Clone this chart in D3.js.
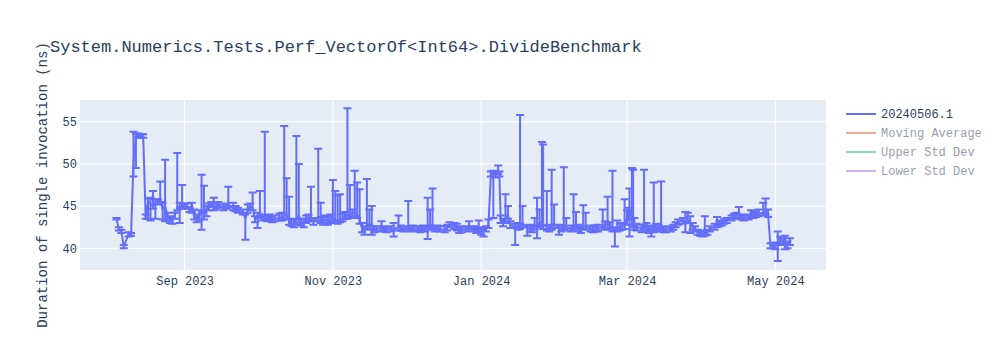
<!DOCTYPE html>
<html>
<head>
<meta charset="utf-8">
<script src="https://cdn.jsdelivr.net/npm/d3@7"></script>
<style>
body{margin:0;background:#fff;}
text{font-family:"Liberation Mono","Courier New",monospace;}
</style>
</head>
<body>
<svg id="chart" width="1000" height="350"></svg>
<script>
// one point per benchmark run (value = mean, upper/lower = ends of the error bar)
var runDates = [
 "2023-08-04","2023-08-05","2023-08-06","2023-08-07","2023-08-09","2023-08-10","2023-08-11","2023-08-12","2023-08-13","2023-08-14","2023-08-15","2023-08-16","2023-08-17","2023-08-18","2023-08-19","2023-08-20","2023-08-21","2023-08-22","2023-08-23","2023-08-24","2023-08-25","2023-08-26","2023-08-27","2023-08-28","2023-08-29","2023-08-30","2023-08-31",
 "2023-09-01","2023-09-02","2023-09-03","2023-09-04","2023-09-05","2023-09-06","2023-09-07","2023-09-08","2023-09-09","2023-09-10","2023-09-11","2023-09-12","2023-09-13","2023-09-14","2023-09-15","2023-09-17","2023-09-18","2023-09-19","2023-09-21","2023-09-22","2023-09-23","2023-09-25","2023-09-26","2023-09-27","2023-09-28","2023-09-29","2023-09-30",
 "2023-10-01","2023-10-02","2023-10-03","2023-10-04","2023-10-05","2023-10-06","2023-10-07","2023-10-08","2023-10-10","2023-10-11","2023-10-12","2023-10-13","2023-10-14","2023-10-15","2023-10-16","2023-10-17","2023-10-18","2023-10-19","2023-10-20","2023-10-21","2023-10-22","2023-10-23","2023-10-24","2023-10-26","2023-10-27","2023-10-28","2023-10-29","2023-10-30","2023-10-31",
 "2023-11-01","2023-11-02","2023-11-03","2023-11-04","2023-11-05","2023-11-06","2023-11-07","2023-11-08","2023-11-09","2023-11-10","2023-11-11","2023-11-12","2023-11-13","2023-11-14","2023-11-15","2023-11-16","2023-11-17","2023-11-18","2023-11-19","2023-11-21","2023-11-22","2023-11-23","2023-11-25","2023-11-26","2023-11-28","2023-11-29","2023-11-30",
 "2023-12-02","2023-12-03","2023-12-04","2023-12-06","2023-12-07","2023-12-08","2023-12-09","2023-12-10","2023-12-11","2023-12-12","2023-12-13","2023-12-14","2023-12-15","2023-12-17","2023-12-18","2023-12-19","2023-12-21","2023-12-22","2023-12-23","2023-12-24","2023-12-26","2023-12-27","2023-12-29","2023-12-30","2023-12-31",
 "2024-01-01","2024-01-02","2024-01-03","2024-01-04","2024-01-05","2024-01-06","2024-01-07","2024-01-08","2024-01-08T12:00Z","2024-01-09","2024-01-10","2024-01-11","2024-01-12","2024-01-13","2024-01-15","2024-01-16","2024-01-17","2024-01-18","2024-01-20","2024-01-21","2024-01-22","2024-01-23","2024-01-24","2024-01-25","2024-01-26","2024-01-26T12:00Z","2024-01-28","2024-01-29","2024-01-30","2024-01-31",
 "2024-02-02","2024-02-03","2024-02-04","2024-02-05","2024-02-07","2024-02-08","2024-02-09","2024-02-10","2024-02-11","2024-02-12","2024-02-13","2024-02-15","2024-02-16","2024-02-17","2024-02-18","2024-02-20","2024-02-21","2024-02-22","2024-02-23","2024-02-24","2024-02-25","2024-02-26","2024-02-27","2024-02-28","2024-02-29",
 "2024-03-01","2024-03-01T12:00Z","2024-03-02","2024-03-03","2024-03-03T12:00Z","2024-03-04","2024-03-05","2024-03-07","2024-03-08","2024-03-09","2024-03-10","2024-03-11","2024-03-12","2024-03-13","2024-03-14","2024-03-15","2024-03-16","2024-03-17","2024-03-19","2024-03-20","2024-03-21","2024-03-22","2024-03-24","2024-03-25","2024-03-26","2024-03-27","2024-03-28","2024-03-29","2024-03-30","2024-03-31",
 "2024-04-01","2024-04-02","2024-04-03","2024-04-04","2024-04-06","2024-04-07","2024-04-08","2024-04-09","2024-04-10","2024-04-11","2024-04-13","2024-04-14","2024-04-15","2024-04-16","2024-04-17","2024-04-18","2024-04-20","2024-04-21","2024-04-22","2024-04-23","2024-04-24","2024-04-26","2024-04-27","2024-04-28","2024-04-29","2024-04-30",
 "2024-05-01","2024-05-02","2024-05-03","2024-05-04","2024-05-05","2024-05-06","2024-05-07"
];

var durations = [
 43.5,42.3,42.0,40.2,41.7,41.6,50.3,53.2,53.4,53.3,53.3,43.7,45.6,45.3,45.0,45.4,45.5,45.8,44.6,45.0,43.8,43.5,43.3,43.9,44.8,44.9,45.0,
 45.0,45.0,44.6,45.1,43.8,43.5,43.9,44.5,44.0,44.6,44.9,45.2,44.8,45.0,45.1,44.8,45.0,45.1,44.9,44.7,44.5,44.3,43.5,44.6,45.0,44.8,43.4,
 43.6,44.0,43.6,43.8,43.5,43.6,43.4,43.5,43.6,43.7,43.8,44.0,43.3,42.9,43.0,43.4,43.9,43.1,43.0,43.4,43.6,43.5,43.2,43.7,43.5,43.2,43.4,43.3,43.5,
 43.6,43.4,43.2,43.5,43.6,43.9,43.9,44.0,44.1,44.3,44.0,43.4,42.4,42.1,42.8,42.7,42.9,42.2,42.3,42.4,42.3,42.2,42.3,42.2,42.5,42.4,42.3,
 42.5,42.3,42.4,42.3,42.2,42.4,42.3,42.4,42.9,42.6,42.3,42.4,42.3,42.2,42.4,42.8,42.7,42.5,42.3,42.2,42.3,42.5,42.3,42.1,42.4,
 42.2,42.1,42.3,42.8,48.8,48.9,48.7,49.1,48.8,43.5,43.0,43.4,44.0,42.8,42.5,42.6,42.7,43.0,42.3,42.4,42.3,42.6,42.8,43.0,43.2,42.8,42.5,42.4,42.7,42.9,
 42.4,42.3,42.6,42.5,42.3,42.6,42.8,42.4,42.2,42.7,42.6,42.3,42.2,42.3,42.4,42.6,42.8,42.9,42.7,42.5,42.0,42.4,42.5,42.6,42.8,
 43.4,44.0,44.5,43.5,43.0,42.6,42.5,42.4,42.6,42.5,42.3,42.2,42.4,42.5,42.4,42.6,42.2,42.2,42.3,42.5,42.8,43.1,43.3,43.1,43.4,43.0,42.6,42.3,41.9,41.8,
 41.7,41.8,41.9,42.3,42.6,42.8,42.9,43.0,43.2,43.3,43.6,43.8,43.9,44.0,43.7,43.6,43.7,43.9,43.9,44.0,44.1,44.2,44.4,44.0,40.3,40.4,
 40.3,40.5,40.9,41.0,40.6,40.4,40.8
];

var upperBound = [
 43.6,42.5,42.2,40.4,41.9,41.8,53.8,53.6,53.6,53.5,53.5,44.0,45.9,46.0,46.8,45.8,45.8,47.9,45.4,50.5,44.2,43.8,43.6,44.2,51.3,45.4,47.5,
 45.3,45.3,44.9,45.4,44.6,44.0,44.5,48.7,47.4,45.0,45.3,45.5,46.0,45.3,45.5,45.2,45.3,47.3,45.4,45.0,44.8,44.6,44.0,45.2,45.3,46.6,43.8,
 44.2,46.8,44.0,53.8,43.9,44.0,43.8,43.9,44.1,44.2,54.5,48.3,46.1,43.4,43.5,53.3,50.0,43.5,43.5,43.9,44.0,47.3,43.6,51.8,45.4,43.7,43.9,43.8,44.0,
 48.1,46.8,46.3,46.4,44.1,44.3,56.6,47.5,44.6,49.2,47.8,47.0,43.0,42.6,48.2,44.6,45.0,42.6,42.6,43.2,42.6,42.5,42.6,43.0,43.9,42.7,42.6,
 45.6,42.6,42.7,42.6,42.5,42.7,42.6,46.0,44.6,47.1,42.6,42.7,42.6,42.6,42.8,43.1,43.0,42.9,42.6,42.5,42.6,43.2,42.6,42.4,43.3,
 42.5,42.4,42.6,43.4,49.1,49.2,49.0,49.8,49.1,43.9,43.5,46.4,45.0,43.2,42.9,43.0,55.8,45.0,42.7,42.8,42.7,43.6,46.0,44.6,52.6,52.3,46.8,42.8,49.3,45.2,
 42.8,42.7,49.6,43.6,42.7,46.4,44.3,42.8,42.6,45.1,44.2,42.7,42.6,42.7,42.8,44.6,43.2,46.1,43.1,49.2,42.5,43.3,42.9,43.0,45.8,
 44.5,44.8,47.1,49.5,49.3,43.6,42.9,42.8,49.3,43.0,42.7,42.6,47.8,42.9,42.8,47.9,42.6,42.5,42.6,42.8,43.1,43.4,43.6,44.3,44.2,43.8,43.0,42.6,42.2,42.1,
 42.0,43.8,42.2,42.6,42.9,43.7,43.2,43.3,43.5,43.6,43.9,44.1,44.2,44.9,44.0,43.9,44.0,44.5,44.2,44.4,44.6,45.4,45.9,44.6,40.6,40.7,
 40.6,42.0,41.4,41.2,41.5,40.8,41.2
];

var lowerBound = [
 43.4,42.1,41.8,40.0,41.4,41.5,48.5,49.5,53.2,53.1,53.1,43.5,43.5,43.3,44.7,43.5,45.2,45.5,43.4,43.2,43.3,43.0,42.9,43.5,44.5,43.0,44.7,
 44.8,44.7,44.3,44.2,43.4,43.1,43.3,42.2,43.4,43.8,44.5,44.9,44.5,44.6,44.8,44.5,44.7,44.8,44.5,44.4,44.2,44.0,41.0,44.2,44.6,44.5,43.1,
 42.4,43.6,43.3,43.4,43.2,43.3,43.1,43.2,43.3,43.3,43.4,43.5,42.8,42.6,42.5,42.8,43.0,42.7,42.5,43.0,43.2,43.2,42.8,43.2,43.0,42.8,43.0,42.8,43.0,
 43.2,43.0,42.9,43.1,43.2,43.5,43.5,43.6,43.7,43.8,43.6,42.9,41.9,41.6,42.3,42.2,41.6,41.9,42.0,42.1,42.0,41.9,42.0,41.4,42.1,42.1,42.0,
 42.2,42.0,42.1,42.0,41.9,42.1,42.0,41.1,42.4,42.2,42.0,42.1,42.0,41.9,42.1,42.5,42.3,42.1,41.8,41.9,42.0,42.2,42.0,41.8,42.0,
 41.6,41.4,42.0,42.4,48.5,43.6,48.4,48.8,48.5,43.0,42.6,43.0,43.5,42.4,40.4,42.2,42.3,42.5,41.5,42.0,41.9,42.2,41.2,42.5,42.7,42.3,42.1,42.0,42.2,42.4,
 41.6,42.0,42.2,42.1,42.0,42.2,42.4,42.0,41.8,42.3,42.2,42.0,41.9,42.0,42.0,42.2,42.4,42.4,42.2,42.0,40.2,42.0,42.1,42.2,42.3,
 42.8,43.4,41.4,42.8,42.5,42.2,42.1,41.9,42.2,42.0,41.8,41.4,41.9,42.1,42.0,42.2,41.9,41.9,42.0,42.2,42.5,42.8,42.9,41.9,43.0,41.8,42.2,42.0,41.6,41.5,
 41.4,41.5,41.6,42.0,42.2,42.5,42.6,42.7,42.9,43.0,43.3,43.5,43.6,43.6,43.4,43.3,43.4,43.6,43.6,43.7,43.8,43.9,44.0,43.7,40.0,40.0,
 39.9,38.5,40.4,40.6,39.9,40.0,40.4
];

var xTickDates = ["2023-09-01","2023-11-01","2024-01-01","2024-03-01","2024-05-01"];
var yTicks = [40, 45, 50, 55];
var legendNames = ["20240506.1", "Moving Average", "Upper Std Dev", "Lower Std Dev"];
var legendColors = ["#636efa", "#EF553B", "#00cc96", "#ab63fa"];

var chartTitle = "System.Numerics.Tests.Perf_VectorOf<Int64>.DivideBenchmark";
var yTitle = "Duration of single invocation (ns)";

if (runDates.length != durations.length || durations.length != upperBound.length || upperBound.length != lowerBound.length) {
    console.log("length mismatch", runDates.length, durations.length, upperBound.length, lowerBound.length);
}

var runs = runDates.map(function (d, i) {
    return {date: d3.isoParse(d.length == 10 ? d + "T00:00Z" : d),
            value: durations[i], hi: upperBound[i], lo: lowerBound[i]};
});

// plot area in page pixels
var plot = {left: 80, right: 826, top: 100, bottom: 270};

var xScale = d3.scaleUtc()
    .domain([new Date(Date.UTC(2023, 6, 20)), new Date(Date.UTC(2024, 4, 21, 20))])
    .range([plot.left, plot.right]);

var yScale = d3.scaleLinear()
    .domain([37.43, 57.57])
    .range([plot.bottom, plot.top]);

var svg = d3.select("#chart");

svg.append("rect")
    .attr("x", plot.left).attr("y", plot.top)
    .attr("width", plot.right - plot.left)
    .attr("height", plot.bottom - plot.top)
    .attr("fill", "#E5ECF6");

var xTicks = xTickDates.map(function (d) { return d3.isoParse(d + "T00:00Z"); });

// grid
svg.append("g").selectAll("line").data(xTicks).enter().append("line")
    .attr("x1", function (d) { return xScale(d); })
    .attr("x2", function (d) { return xScale(d); })
    .attr("y1", plot.top).attr("y2", plot.bottom)
    .attr("stroke", "#fff").attr("stroke-width", 1);

svg.append("g").selectAll("line").data(yTicks).enter().append("line")
    .attr("x1", plot.left).attr("x2", plot.right)
    .attr("y1", function (d) { return yScale(d); })
    .attr("y2", function (d) { return yScale(d); })
    .attr("stroke", "#fff").attr("stroke-width", 1);

// axes
var xAxis = d3.axisBottom(xScale)
    .tickValues(xTicks)
    .tickFormat(d3.utcFormat("%b %Y"))
    .tickSize(0).tickPadding(6);

var yAxis = d3.axisLeft(yScale)
    .tickValues(yTicks)
    .tickSize(0).tickPadding(3);

var gx = svg.append("g")
    .attr("transform", "translate(0," + plot.bottom + ")")
    .call(xAxis);
var gy = svg.append("g")
    .attr("transform", "translate(" + plot.left + ",0)")
    .call(yAxis);

[gx, gy].forEach(function (g) {
    g.select(".domain").remove();
    g.selectAll("text")
        .attr("fill", "#2a3f5f")
        .style("font-size", "12px")
        .style("font-family", "'Liberation Mono','Courier New',monospace");
});

// error bars
var bars = svg.append("g")
    .attr("stroke", "#636efa")
    .attr("stroke-width", 2)
    .attr("fill", "none");

bars.selectAll("path").data(runs).enter().append("path")
    .attr("d", function (d) {
        var x = xScale(d.date), y1 = yScale(d.hi), y0 = yScale(d.lo);
        return "M" + x + "," + y0 + "V" + y1 +
               "M" + (x - 4) + "," + y1 + "H" + (x + 4) +
               "M" + (x - 4) + "," + y0 + "H" + (x + 4);
    });

// main line
var lineGenerator = d3.line()
    .x(function (d) { return xScale(d.date); })
    .y(function (d) { return yScale(d.value); });

svg.append("path")
    .datum(runs)
    .attr("d", lineGenerator)
    .attr("fill", "none")
    .attr("stroke", "#636efa")
    .attr("stroke-width", 2)
    .attr("stroke-linejoin", "round");

// titles
svg.append("text")
    .text(chartTitle)
    .attr("x", 50).attr("y", 52)
    .attr("fill", "#2a3f5f")
    .style("font-size", "17px");

svg.append("text")
    .text(yTitle)
    .attr("text-anchor", "middle")
    .attr("transform", "translate(47," + ((plot.top + plot.bottom) / 2) + ") rotate(-90)")
    .attr("fill", "#2a3f5f")
    .style("font-size", "14px");

// legend (only the first trace is shown, the others are toggled off)
var legend = svg.append("g")
    .attr("transform", "translate(846,114)");

var items = legend.selectAll("g").data(legendNames).enter().append("g")
    .attr("transform", function (d, i) { return "translate(0," + (i * 19) + ")"; })
    .attr("opacity", function (d, i) { return i == 0 ? 1 : 0.5; });

items.append("line")
    .attr("x1", 0).attr("x2", 30)
    .attr("y1", 0).attr("y2", 0)
    .attr("stroke", function (d, i) { return legendColors[i]; })
    .attr("stroke-width", 2);

items.append("text")
    .text(function (d) { return d; })
    .attr("x", 35).attr("y", 0)
    .attr("dy", "0.35em")
    .attr("fill", "#2a3f5f")
    .style("font-size", "12px");
</script>
</body>
</html>
